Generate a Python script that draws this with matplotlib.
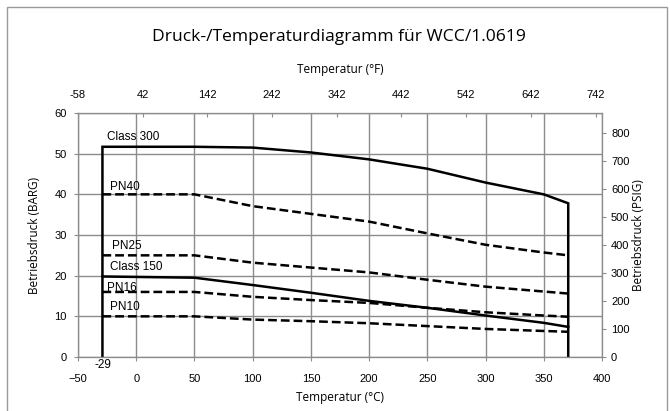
import numpy as np
import matplotlib.pyplot as plt
from matplotlib.patches import Rectangle

# temperatures in degC and allowed pressures in bar
temp_class = [-29, 50, 100, 150, 200, 250, 300, 350, 371]
class300 = [51.7, 51.7, 51.5, 50.3, 48.6, 46.3, 42.9, 40.0, 37.8]
class150 = [19.8, 19.5, 17.7, 15.8, 13.8, 12.1, 10.2, 8.4, 7.4]

temp_pn = [-29, 50, 100, 150, 200, 250, 300, 350, 371]
pn40 = [40.0, 40.0, 37.1, 35.2, 33.3, 30.4, 27.6, 25.7, 25.0]
pn25 = [25.0, 25.0, 23.2, 22.0, 20.8, 19.0, 17.3, 16.1, 15.6]
pn16 = [16.0, 16.0, 14.8, 14.0, 13.3, 12.1, 11.0, 10.2, 9.9]
pn10 = [10.0, 10.0, 9.2, 8.8, 8.3, 7.6, 6.9, 6.4, 6.2]

labels = ["Class 300", "PN40", "PN25", "Class 150", "PN16", "PN10"]
label_x = [-25, -22.5, -21, -22.5, -25, -22.5]
label_y = [54.0, 41.8, 27.4, 22.1, 17.0, 12.3]

x_ticks = [-50, 0, 50, 100, 150, 200, 250, 300, 350, 400]
f_ticks = [-58, 42, 142, 242, 342, 442, 542, 642, 742]
psi_ticks = [0, 100, 200, 300, 400, 500, 600, 700, 800]

BAR_TO_PSI = 14.5038
tick_font = "Liberation Sans"
label_font = "Open Sans"

fig = plt.figure(figsize=(6.7, 4.11), dpi=100)
ax = fig.add_axes([0.1164, 0.1314, 0.7821, 0.5936])

# frame around the whole graphic
fig.patches.append(Rectangle((0.011, -0.01), 0.985, 0.993, transform=fig.transFigure,
                             fill=False, edgecolor="#9a9a9a", linewidth=1.0))

ax.set_xlim(-50, 400)
ax.set_ylim(0, 60)
ax.set_xticks(x_ticks)
ax.set_yticks(range(0, 61, 10))
ax.grid(True, color="#8c8c8c", linewidth=1.0)
ax.set_axisbelow(True)
for s in ax.spines.values():
    s.set_color("#8c8c8c")
ax.tick_params(colors="#8c8c8c", labelcolor="black", length=3, labelsize=8)
ax.tick_params(axis="x", pad=9)
ax.tick_params(axis="y", pad=5)
for lab in ax.get_xticklabels() + ax.get_yticklabels():
    lab.set_fontfamily(tick_font)

# class lines (closed at the ends with verticals)
ax.plot([temp_class[0]] + temp_class + [temp_class[-1]],
        [0] + class300 + [0], color="black", lw=1.8, solid_joinstyle="miter")
ax.plot(temp_class, class150, color="black", lw=1.8)
for series in (pn40, pn25, pn16, pn10):
    ax.plot(temp_pn, series, color="black", lw=1.8, ls=(0, (3.5, 1.6)))

for txt, tx, ty in zip(labels, label_x, label_y):
    ax.text(tx, ty, txt, fontsize=8.5, family=tick_font, va="center", ha="left")
ax.text(-29, -0.4, "-29", fontsize=8.5, family=tick_font, va="top", ha="center")

ax.set_xlabel("Temperatur (°C)", fontsize=8.5, family=label_font, labelpad=5)
ax.set_ylabel("Betriebsdruck (BARG)", fontsize=8.5, family=label_font, labelpad=10)

# top axis in degF
axt = ax.twiny()
axt.set_xlim(ax.get_xlim())
axt.set_xticks([(f - 32) / 1.8 for f in f_ticks])
axt.set_xticklabels([str(f) for f in f_ticks], family=tick_font)
axt.tick_params(direction="in", length=3, colors="#8c8c8c", labelcolor="black",
                labelsize=8, pad=9.5)
axt.set_xlabel("Temperatur (°F)", fontsize=8.5, family=label_font, labelpad=12)

# right axis in psig
axr = ax.twinx()
axr.set_ylim(0, 60 * BAR_TO_PSI)
axr.set_yticks(psi_ticks)
axr.set_yticklabels([str(p) for p in psi_ticks], family=tick_font)
axr.tick_params(length=3, colors="#8c8c8c", labelcolor="black", labelsize=8)
axr.set_ylabel("Betriebsdruck (PSIG)", fontsize=8.5, family=label_font, labelpad=2)
for a in (axt, axr):
    for s in a.spines.values():
        s.set_color("#8c8c8c")

fig.text(0.506, 0.91, "Druck-/Temperaturdiagramm für WCC/1.0619", fontsize=12.6,
         family=label_font, ha="center", va="center")

fig.savefig("out.png", dpi=100)
